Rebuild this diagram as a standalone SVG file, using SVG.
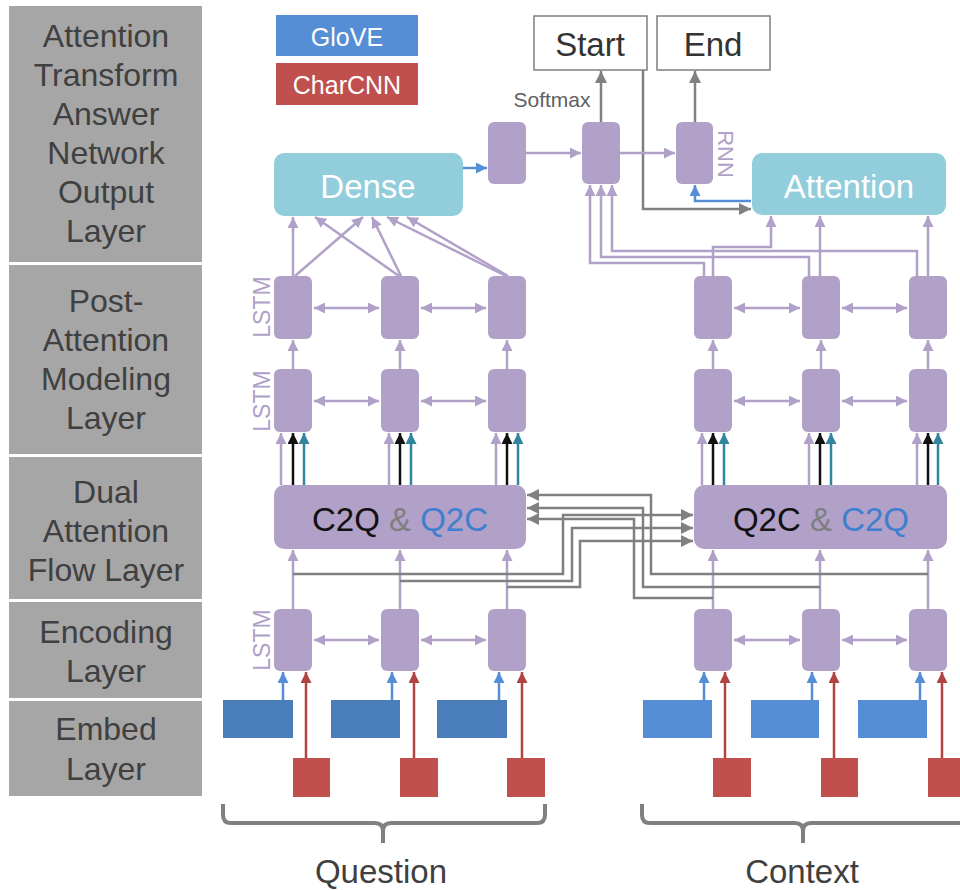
<svg xmlns="http://www.w3.org/2000/svg" width="960" height="890" viewBox="0 0 960 890">
<style>
text{font-family:"Liberation Sans",Arial,sans-serif}
.lbl{fill:#a6a6a6}
.lt{font-size:32px;fill:#404040;text-anchor:middle}
.cell{fill:#b1a0c7}
.ln{fill:none;stroke:#b1a0c7;stroke-width:2.5}
.gr{fill:none;stroke:#808080;stroke-width:2.5}
.bk{fill:none;stroke:#111;stroke-width:2.5}
.tl{fill:none;stroke:#31859c;stroke-width:2.5}
.bl{fill:none;stroke:#558ed5;stroke-width:2.5}
.rd{fill:none;stroke:#b04442;stroke-width:2.5}
.teal{fill:#92cddc}
.big{font-size:33px;text-anchor:middle}
.rot{font-size:22px;fill:#b1a0c7;text-anchor:middle}
.lstm{font-size:23px}
.brace{fill:none;stroke:#808080;stroke-width:4}
</style>
<defs>
<marker id="al" viewBox="0 0 10 10" refX="10" refY="5" markerWidth="11" markerHeight="11" markerUnits="userSpaceOnUse" orient="auto-start-reverse"><path d="M0,0 L10,5 L0,10 z" fill="#b1a0c7"/></marker>
<marker id="ag" viewBox="0 0 10 10" refX="10" refY="5" markerWidth="12" markerHeight="12" markerUnits="userSpaceOnUse" orient="auto"><path d="M0,0 L10,5 L0,10 z" fill="#808080"/></marker>
<marker id="ak" viewBox="0 0 10 10" refX="10" refY="5" markerWidth="11" markerHeight="11" markerUnits="userSpaceOnUse" orient="auto"><path d="M0,0 L10,5 L0,10 z" fill="#111"/></marker>
<marker id="at" viewBox="0 0 10 10" refX="10" refY="5" markerWidth="11" markerHeight="11" markerUnits="userSpaceOnUse" orient="auto"><path d="M0,0 L10,5 L0,10 z" fill="#31859c"/></marker>
<marker id="ab" viewBox="0 0 10 10" refX="10" refY="5" markerWidth="11" markerHeight="11" markerUnits="userSpaceOnUse" orient="auto"><path d="M0,0 L10,5 L0,10 z" fill="#558ed5"/></marker>
<marker id="ar" viewBox="0 0 10 10" refX="10" refY="5" markerWidth="11" markerHeight="11" markerUnits="userSpaceOnUse" orient="auto"><path d="M0,0 L10,5 L0,10 z" fill="#b04442"/></marker>
</defs>
<rect width="960" height="890" fill="#fff"/>

<!-- layer labels -->
<g id="label-output">
<rect class="lbl" x="9" y="6" width="193" height="256"/>
<text class="lt" x="106" y="47">Attention</text>
<text class="lt" x="106" y="86">Transform</text>
<text class="lt" x="106" y="125">Answer</text>
<text class="lt" x="106" y="164">Network</text>
<text class="lt" x="106" y="203">Output</text>
<text class="lt" x="106" y="242">Layer</text>
</g>
<g id="label-modeling">
<rect class="lbl" x="9" y="265" width="193" height="189"/>
<text class="lt" x="106" y="312">Post-</text>
<text class="lt" x="106" y="351">Attention</text>
<text class="lt" x="106" y="390">Modeling</text>
<text class="lt" x="106" y="429">Layer</text>
</g>
<g id="label-attention">
<rect class="lbl" x="9" y="457" width="193" height="142"/>
<text class="lt" x="106" y="503">Dual</text>
<text class="lt" x="106" y="542">Attention</text>
<text class="lt" x="106" y="581">Flow Layer</text>
</g>
<g id="label-encoding">
<rect class="lbl" x="9" y="602" width="193" height="96"/>
<text class="lt" x="106" y="643">Encoding</text>
<text class="lt" x="106" y="682">Layer</text>
</g>
<g id="label-embed">
<rect class="lbl" x="9" y="701" width="193" height="95"/>
<text class="lt" x="106" y="740">Embed</text>
<text class="lt" x="106" y="780">Layer</text>
</g>

<!-- legend -->
<g id="legend-glove">
<rect x="276" y="15" width="142" height="41" fill="#558ed5"/>
<text x="347" y="46" font-size="25" fill="#fff" text-anchor="middle">GloVE</text>
</g>
<g id="legend-charcnn">
<rect x="276" y="63" width="142" height="42" fill="#c0504d"/>
<text x="347" y="94" font-size="25" fill="#fff" text-anchor="middle">CharCNN</text>
</g>

<!-- connectors -->
<g id="connectors">
<path class="gr" d="M601,122 V71" marker-end="url(#ag)"/>
<path class="gr" d="M695,122 V71" marker-end="url(#ag)"/>
<path class="gr" d="M643,70 V209 H751" marker-end="url(#ag)"/>
<path class="bl" d="M751,201 H695 V185" marker-end="url(#ab)"/>
<path class="bl" d="M463,168 H487" marker-end="url(#ab)"/>
<path class="ln" d="M526,153 H581" marker-end="url(#al)"/>
<path class="ln" d="M620,153 H675" marker-end="url(#al)"/>
<path class="ln" d="M704,276 V263 H590 V185" marker-end="url(#al)"/>
<path class="ln" d="M809,276 V257 H601 V185" marker-end="url(#al)"/>
<path class="ln" d="M917,276 V251 H612 V185" marker-end="url(#al)"/>
<path class="ln" d="M713,276 V247 H771 V216" marker-end="url(#al)"/>
<path class="ln" d="M820,276 V216" marker-end="url(#al)"/>
<path class="ln" d="M928,276 V216" marker-end="url(#al)"/>
<path class="ln" d="M293,276 V217" marker-end="url(#al)"/>
<path class="ln" d="M295,276 L363,217" marker-end="url(#al)"/>
<path class="ln" d="M399,276 L315,217" marker-end="url(#al)"/>
<path class="ln" d="M401,276 L372,217" marker-end="url(#al)"/>
<path class="ln" d="M506,276 L387,217" marker-end="url(#al)"/>
<path class="ln" d="M508,276 L407,217" marker-end="url(#al)"/>
<path class="ln" d="M293,369 V340" marker-end="url(#al)"/>
<path class="ln" d="M400,369 V340" marker-end="url(#al)"/>
<path class="ln" d="M507,369 V340" marker-end="url(#al)"/>
<path class="ln" d="M713,369 V340" marker-end="url(#al)"/>
<path class="ln" d="M821,369 V340" marker-end="url(#al)"/>
<path class="ln" d="M928,369 V340" marker-end="url(#al)"/>
<path class="ln" d="M314,308 H379" marker-start="url(#al)" marker-end="url(#al)"/>
<path class="ln" d="M421,308 H486" marker-start="url(#al)" marker-end="url(#al)"/>
<path class="ln" d="M314,401 H379" marker-start="url(#al)" marker-end="url(#al)"/>
<path class="ln" d="M421,401 H486" marker-start="url(#al)" marker-end="url(#al)"/>
<path class="ln" d="M314,640 H379" marker-start="url(#al)" marker-end="url(#al)"/>
<path class="ln" d="M421,640 H486" marker-start="url(#al)" marker-end="url(#al)"/>
<path class="ln" d="M734,308 H800" marker-start="url(#al)" marker-end="url(#al)"/>
<path class="ln" d="M842,308 H907" marker-start="url(#al)" marker-end="url(#al)"/>
<path class="ln" d="M734,401 H800" marker-start="url(#al)" marker-end="url(#al)"/>
<path class="ln" d="M842,401 H907" marker-start="url(#al)" marker-end="url(#al)"/>
<path class="ln" d="M734,640 H800" marker-start="url(#al)" marker-end="url(#al)"/>
<path class="ln" d="M842,640 H907" marker-start="url(#al)" marker-end="url(#al)"/>
<path class="ln" d="M281,485 V433" marker-end="url(#al)"/>
<path class="bk" d="M293,485 V433" marker-end="url(#ak)"/>
<path class="tl" d="M304,485 V433" marker-end="url(#at)"/>
<path class="ln" d="M389,485 V433" marker-end="url(#al)"/>
<path class="bk" d="M400,485 V433" marker-end="url(#ak)"/>
<path class="tl" d="M411,485 V433" marker-end="url(#at)"/>
<path class="ln" d="M496,485 V433" marker-end="url(#al)"/>
<path class="bk" d="M507,485 V433" marker-end="url(#ak)"/>
<path class="tl" d="M518,485 V433" marker-end="url(#at)"/>
<path class="ln" d="M702,485 V433" marker-end="url(#al)"/>
<path class="bk" d="M713,485 V433" marker-end="url(#ak)"/>
<path class="tl" d="M724,485 V433" marker-end="url(#at)"/>
<path class="ln" d="M809,485 V433" marker-end="url(#al)"/>
<path class="bk" d="M820,485 V433" marker-end="url(#ak)"/>
<path class="tl" d="M831,485 V433" marker-end="url(#at)"/>
<path class="ln" d="M917,485 V433" marker-end="url(#al)"/>
<path class="bk" d="M928,485 V433" marker-end="url(#ak)"/>
<path class="tl" d="M938,485 V433" marker-end="url(#at)"/>
<path class="ln" d="M293,609 V550" marker-end="url(#al)"/>
<path class="ln" d="M400,609 V550" marker-end="url(#al)"/>
<path class="ln" d="M507,609 V550" marker-end="url(#al)"/>
<path class="ln" d="M713,609 V550" marker-end="url(#al)"/>
<path class="ln" d="M820,609 V550" marker-end="url(#al)"/>
<path class="ln" d="M928,609 V550" marker-end="url(#al)"/>
<path class="gr" d="M928,574 H651 V495 H527" marker-end="url(#ag)"/>
<path class="gr" d="M820,587 H643 V508 H527" marker-end="url(#ag)"/>
<path class="gr" d="M713,598 H634 V519 H527" marker-end="url(#ag)"/>
<path class="gr" d="M293,574 H563 V515 H693" marker-end="url(#ag)"/>
<path class="gr" d="M400,581 H572 V528 H693" marker-end="url(#ag)"/>
<path class="gr" d="M507,587 H580 V541 H693" marker-end="url(#ag)"/>
<path class="bl" d="M283,700 V672" marker-end="url(#ab)"/>
<path class="rd" d="M306,758 V672" marker-end="url(#ar)"/>
<path class="bl" d="M392,700 V672" marker-end="url(#ab)"/>
<path class="rd" d="M414,758 V672" marker-end="url(#ar)"/>
<path class="bl" d="M499,700 V672" marker-end="url(#ab)"/>
<path class="rd" d="M522,758 V672" marker-end="url(#ar)"/>
<path class="bl" d="M704,700 V672" marker-end="url(#ab)"/>
<path class="rd" d="M725,758 V672" marker-end="url(#ar)"/>
<path class="bl" d="M812,700 V672" marker-end="url(#ab)"/>
<path class="rd" d="M834,758 V672" marker-end="url(#ar)"/>
<path class="bl" d="M920,700 V672" marker-end="url(#ab)"/>
<path class="rd" d="M942,758 V672" marker-end="url(#ar)"/>
</g>

<!-- output nodes -->
<g id="start">
<rect x="534" y="16" width="113" height="54" fill="#fff" stroke="#7f7f7f" stroke-width="1.5"/>
<text class="big" x="590" y="56" fill="#333">Start</text>
</g>
<g id="end">
<rect x="657" y="16" width="113" height="54" fill="#fff" stroke="#7f7f7f" stroke-width="1.5"/>
<text class="big" x="713" y="56" fill="#333">End</text>
</g>
<text x="552" y="107" font-size="21" fill="#606060" text-anchor="middle">Softmax</text>
<g id="out-a"><rect class="cell" x="488" y="122" width="38" height="62" rx="6"/></g>
<g id="out-softmax"><rect class="cell" x="582" y="122" width="38" height="62" rx="6"/></g>
<g id="out-rnn">
<rect class="cell" x="676" y="122" width="37" height="62" rx="6"/>
<text class="rot" transform="translate(718,154) rotate(90)">RNN</text>
</g>
<g id="dense">
<rect class="teal" x="274" y="153" width="189" height="63" rx="10"/>
<text class="big" x="368" y="198" fill="#fff">Dense</text>
</g>
<g id="attention">
<rect class="teal" x="752" y="153" width="194" height="62" rx="10"/>
<text class="big" x="849" y="198" fill="#fff">Attention</text>
</g>

<!-- modeling layer -->
<g id="q-m2-1"><rect class="cell" x="274" y="276" width="38" height="63" rx="6"/></g>
<g id="q-m2-2"><rect class="cell" x="381" y="276" width="38" height="63" rx="6"/></g>
<g id="q-m2-3"><rect class="cell" x="488" y="276" width="38" height="63" rx="6"/></g>
<g id="q-m1-1"><rect class="cell" x="274" y="369" width="38" height="63" rx="6"/></g>
<g id="q-m1-2"><rect class="cell" x="381" y="369" width="38" height="63" rx="6"/></g>
<g id="q-m1-3"><rect class="cell" x="488" y="369" width="38" height="63" rx="6"/></g>
<g id="c-m2-1"><rect class="cell" x="694" y="276" width="38" height="63" rx="6"/></g>
<g id="c-m2-2"><rect class="cell" x="802" y="276" width="38" height="63" rx="6"/></g>
<g id="c-m2-3"><rect class="cell" x="909" y="276" width="38" height="63" rx="6"/></g>
<g id="c-m1-1"><rect class="cell" x="694" y="369" width="38" height="63" rx="6"/></g>
<g id="c-m1-2"><rect class="cell" x="802" y="369" width="38" height="63" rx="6"/></g>
<g id="c-m1-3"><rect class="cell" x="909" y="369" width="38" height="63" rx="6"/></g>
<text class="rot lstm" transform="translate(270,307) rotate(-90)">LSTM</text>
<text class="rot lstm" transform="translate(270,401) rotate(-90)">LSTM</text>

<!-- attention flow -->
<g id="c2q">
<rect class="cell" x="274" y="485" width="252" height="64" rx="10"/>
<text x="400" y="531" font-size="33" text-anchor="middle"><tspan fill="#111">C2Q</tspan> <tspan fill="#7f7f7f">&amp;</tspan> <tspan fill="#3f7fd0">Q2C</tspan></text>
</g>
<g id="q2c">
<rect class="cell" x="694" y="485" width="253" height="64" rx="10"/>
<text x="821" y="531" font-size="33" text-anchor="middle"><tspan fill="#111">Q2C</tspan> <tspan fill="#7f7f7f">&amp;</tspan> <tspan fill="#3f7fd0">C2Q</tspan></text>
</g>

<!-- encoding layer -->
<g id="q-e-1"><rect class="cell" x="274" y="609" width="38" height="62" rx="6"/></g>
<g id="q-e-2"><rect class="cell" x="381" y="609" width="38" height="62" rx="6"/></g>
<g id="q-e-3"><rect class="cell" x="488" y="609" width="38" height="62" rx="6"/></g>
<g id="c-e-1"><rect class="cell" x="694" y="609" width="38" height="62" rx="6"/></g>
<g id="c-e-2"><rect class="cell" x="802" y="609" width="38" height="62" rx="6"/></g>
<g id="c-e-3"><rect class="cell" x="909" y="609" width="38" height="62" rx="6"/></g>
<text class="rot lstm" transform="translate(270,640) rotate(-90)">LSTM</text>

<!-- embed layer -->
<g id="q-glove-1"><rect x="223" y="700" width="70" height="38" fill="#4a7ebb"/></g>
<g id="q-glove-2"><rect x="331" y="700" width="69" height="38" fill="#4a7ebb"/></g>
<g id="q-glove-3"><rect x="437" y="700" width="70" height="38" fill="#4a7ebb"/></g>
<g id="q-char-1"><rect x="293" y="758" width="37" height="39" fill="#c0504d"/></g>
<g id="q-char-2"><rect x="400" y="758" width="38" height="39" fill="#c0504d"/></g>
<g id="q-char-3"><rect x="507" y="758" width="38" height="39" fill="#c0504d"/></g>
<g id="c-glove-1"><rect x="643" y="700" width="69" height="38" fill="#558ed5"/></g>
<g id="c-glove-2"><rect x="751" y="700" width="68" height="38" fill="#558ed5"/></g>
<g id="c-glove-3"><rect x="858" y="700" width="69" height="38" fill="#558ed5"/></g>
<g id="c-char-1"><rect x="713" y="758" width="38" height="39" fill="#c0504d"/></g>
<g id="c-char-2"><rect x="821" y="758" width="37" height="39" fill="#c0504d"/></g>
<g id="c-char-3"><rect x="928" y="758" width="38" height="39" fill="#c0504d"/></g>

<!-- braces -->
<g id="question">
<path class="brace" d="M223,804 V815 Q223,823 231,823 H375 Q383,823 383,831 V843 M383,831 Q383,823 391,823 H537 Q545,823 545,815 V804"/>
<text x="381" y="883" font-size="33" fill="#404040" text-anchor="middle">Question</text>
</g>
<g id="context">
<path class="brace" d="M642,804 V815 Q642,823 650,823 H795 Q803,823 803,831 V843 M803,831 Q803,823 811,823 H970"/>
<text x="802" y="883" font-size="33" fill="#404040" text-anchor="middle">Context</text>
</g>
</svg>
